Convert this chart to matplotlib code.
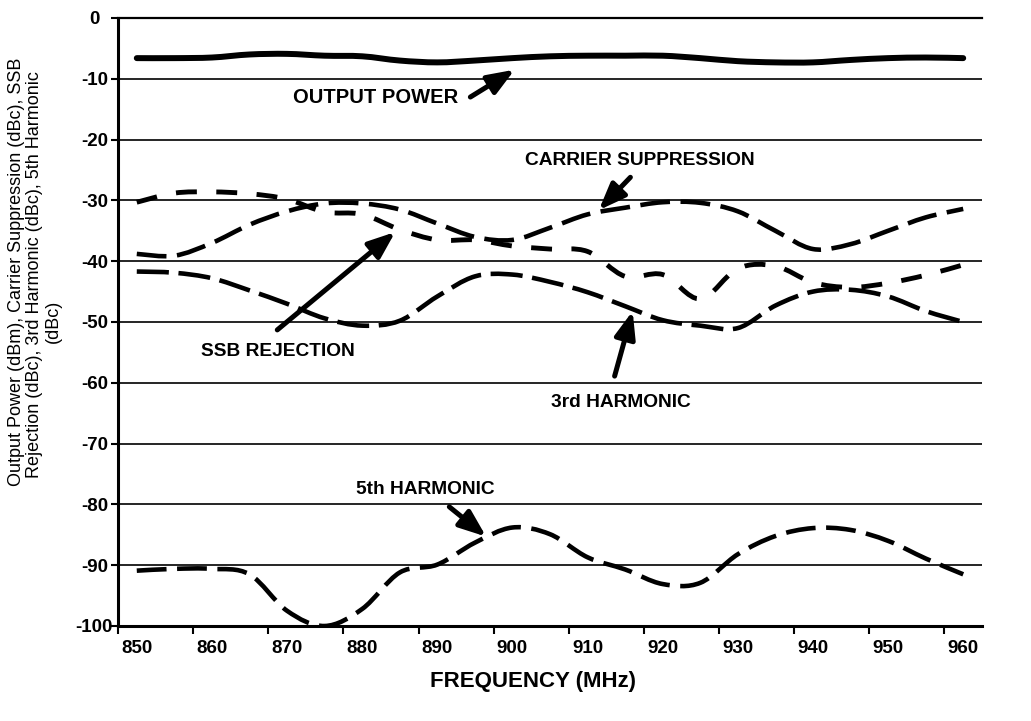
import numpy as np
import matplotlib
matplotlib.use("Agg")
import matplotlib.pyplot as plt
from matplotlib.path import Path
from matplotlib.patches import PathPatch

plt.rcParams['font.family'] = ['Liberation Sans', 'DejaVu Sans']

# ---------------- data ----------------
freq = [850, 855, 860, 865, 870, 875, 880, 885, 890, 895, 900, 905, 910,
        915, 920, 925, 930, 935, 940, 945, 950, 955, 960]

output_power = [-6.6, -6.6, -6.5, -6.0, -5.9, -6.2, -6.3, -7.0, -7.3, -7.0, -6.6, -6.3, -6.2,
                -6.2, -6.2, -6.6, -7.1, -7.3, -7.3, -6.9, -6.6, -6.5, -6.6]

carrier_supp = [-38.8, -39.1, -37.0, -34.0, -31.8, -30.5, -30.5, -31.5, -33.8, -36.0, -36.5, -34.5, -32.3,
                -31.2, -30.3, -30.4, -31.8, -35.0, -38.0, -37.2, -35.0, -32.8, -31.4]

ssb_rejection = [-30.3, -28.8, -28.6, -28.9, -29.8, -31.9, -32.3, -34.8, -36.5, -36.5, -37.5, -38.0, -38.4,
                 -42.5, -42.2, -46.2, -41.2, -40.8, -43.5, -44.3, -43.6, -42.3, -40.6]

harm3 = [-41.7, -41.9, -42.8, -44.8, -47.0, -49.4, -50.6, -49.8, -45.8, -42.5, -42.2, -43.4, -45.1,
         -47.4, -49.7, -50.6, -51.0, -47.3, -45.0, -44.7, -45.8, -48.2, -50.0]

harm5 = [-90.9, -90.6, -90.6, -91.5, -97.5, -100.0, -97.2, -91.2, -89.9, -86.3, -83.8, -84.9, -88.7,
         -90.7, -93.1, -92.9, -88.2, -85.2, -83.9, -84.2, -86.0, -88.9, -91.5]

x_tick_labels = ['850', '860', '870', '880', '890', '900', '910', '920', '930', '940', '950', '960']
y_ticks = [0, -10, -20, -30, -40, -50, -60, -70, -80, -90, -100]

# ---------------- helpers ----------------
def smooth_path(x, y):
    pts = np.column_stack([np.asarray(x, float), np.asarray(y, float)])
    verts = [pts[0]]
    codes = [Path.MOVETO]
    n = len(pts)
    for i in range(n - 1):
        p0 = pts[i - 1] if i > 0 else pts[i]
        p1 = pts[i]
        p2 = pts[i + 1]
        p3 = pts[i + 2] if i + 2 < n else pts[i + 1]
        c1 = p1 + (p2 - p0) / 6.0
        c2 = p2 - (p3 - p1) / 6.0
        verts += [c1, c2, p2]
        codes += [Path.CURVE4] * 3
    return Path(verts, codes)


def draw_series(ax, x, y, lw, ls, cap='butt'):
    patch = PathPatch(smooth_path(x, y), fill=False, edgecolor='black',
                      linewidth=lw, linestyle=ls, capstyle=cap, joinstyle='round',
                      zorder=3)
    ax.add_patch(patch)


# ---------------- figure ----------------
W, H = 1031, 721
fig = plt.figure(figsize=(W / 100, H / 100), dpi=100)
left_px, right_px, top_px, bot_px = 118, 982, 18, 626
ax = fig.add_axes([left_px / W, (H - bot_px) / H, (right_px - left_px) / W, (bot_px - top_px) / H])

ax.set_xlim(847.5, 962.5)
ax.set_ylim(-100, 0)

draw_series(ax, freq, output_power, 4.3, 'solid', cap='round')
draw_series(ax, freq, carrier_supp, 3.3, (0, (6.5, 2.3)))
draw_series(ax, freq, ssb_rejection, 3.5, (0, (4.3, 4.0)))
draw_series(ax, freq, harm3, 3.3, (0, (7.0, 2.1)))
draw_series(ax, freq, harm5, 3.3, (0, (6.5, 2.3)))

# grid / axes
ax.set_yticks(y_ticks)
ax.set_yticklabels([str(v) for v in y_ticks])
ax.yaxis.grid(True, color='black', linewidth=1.2, zorder=1)
ax.set_axisbelow(True)

major_x = [int(t) for t in x_tick_labels]
ax.set_xticks(major_x)
ax.set_xticklabels(x_tick_labels)
ax.set_xticks([847.5 + 10 * k for k in range(12)], minor=True)
ax.tick_params(axis='x', which='major', length=0, pad=10, labelsize=13.5)
ax.tick_params(axis='x', which='minor', length=6, width=1.5, direction='out')
ax.tick_params(axis='y', which='major', length=5, width=1.5, direction='out', pad=12, labelsize=13.5)
for lab in ax.get_xticklabels():
    lab.set_fontweight('bold')
for lab in ax.get_yticklabels():
    lab.set_fontweight('bold')
    lab.set_horizontalalignment('center')

ax.spines['left'].set_linewidth(2.2)
ax.spines['bottom'].set_linewidth(2.2)
ax.spines['top'].set_linewidth(1.6)
ax.spines['right'].set_visible(False)

# axis titles
fig.text(533 / W, 1 - 681 / H, 'FREQUENCY (MHz)', ha='center', va='center',
         fontsize=16, fontweight='bold')
fig.text(17 / W, 1 - 272 / H, 'Output Power (dBm), Carrier Suppression (dBc), SSB',
         rotation=90, ha='center', va='center', fontsize=13)
fig.text(35 / W, 1 - 275 / H, 'Rejection (dBc), 3rd Harmonic (dBc), 5th Harmonic',
         rotation=90, ha='center', va='center', fontsize=13)
fig.text(53 / W, 1 - 321 / H, '(dBc)',
         rotation=90, ha='center', va='center', fontsize=13)

# annotations
txt_kw = dict(ha='center', va='center', fontsize=13.8, fontweight='bold', zorder=5)
arrow_kw = dict(arrowstyle='-|>,head_length=0.9,head_width=0.35', color='black',
                lw=3.6, mutation_scale=18, shrinkA=0, shrinkB=0)

ax.text(881.8, -13.0, 'OUTPUT POWER', fontsize=14.5, fontweight='bold',
        ha='center', va='center', zorder=5)
ax.annotate('', xy=(900.3, -8.5), xytext=(894.4, -13.0), arrowprops=arrow_kw, zorder=5)

ax.text(916.9, -23.4, 'CARRIER SUPPRESSION', **txt_kw)
ax.annotate('', xy=(911.5, -31.6), xytext=(915.7, -26.2), arrowprops=arrow_kw, zorder=5)

ax.text(868.8, -54.9, 'SSB REJECTION', **txt_kw)
ax.annotate('', xy=(884.4, -35.2), xytext=(868.7, -51.3), arrowprops=arrow_kw, zorder=5)

ax.text(914.4, -63.3, '3rd HARMONIC', **txt_kw)
ax.annotate('', xy=(916.0, -48.2), xytext=(913.6, -58.9), arrowprops=arrow_kw, zorder=5)

ax.text(888.4, -77.6, '5th HARMONIC', **txt_kw)
ax.annotate('', xy=(896.5, -85.3), xytext=(891.6, -80.4), arrowprops=arrow_kw, zorder=5)

fig.savefig('out.png', dpi=100)
